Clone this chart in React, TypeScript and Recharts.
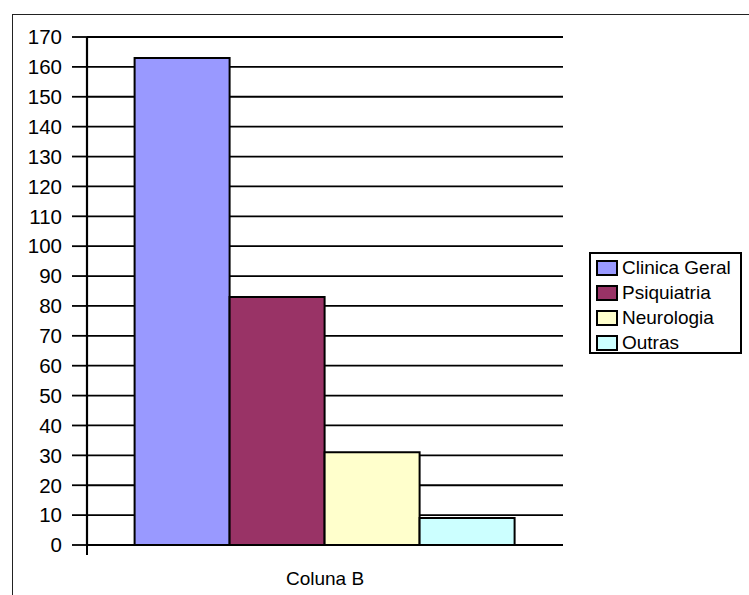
import React from 'react';
import { BarChart, Bar, XAxis, YAxis, CartesianGrid } from 'recharts';

// Atendimentos por especialidade
const categories = ['Coluna B'];
const seriesNames = ['Clinica Geral', 'Psiquiatria', 'Neurologia', 'Outras'];
const seriesKeys = ['clinica', 'psiquiatria', 'neurologia', 'outras'];
const seriesValues = [163, 83, 31, 9];
const seriesColors = ['#9999FF', '#993366', '#FFFFCC', '#CCFFFF'];
const yTicks = [0, 10, 20, 30, 40, 50, 60, 70, 80, 90, 100, 110, 120, 130, 140, 150, 160, 170];

const data = categories.map((name) => {
  const row: Record<string, string | number> = { name };
  seriesKeys.forEach((key, i) => {
    row[key] = seriesValues[i];
  });
  return row;
});

const font = '"Liberation Sans", Arial, sans-serif';

function LegendBox() {
  return (
    <div
      style={{
        position: 'absolute',
        left: 589,
        top: 252,
        width: 153,
        height: 102,
        boxSizing: 'border-box',
        border: '2px solid #000',
        background: '#fff',
        paddingTop: 1,
      }}
    >
      {seriesNames.map((name, i) => (
        <div key={name} style={{ display: 'flex', alignItems: 'center', height: 25 }}>
          <div
            style={{
              width: 22,
              height: 16,
              marginLeft: 5,
              marginRight: 4,
              boxSizing: 'border-box',
              border: '2px solid #000',
              background: seriesColors[i],
            }}
          />
          <span style={{ fontFamily: font, fontSize: 19, color: '#000', lineHeight: '20px' }}>{name}</span>
        </div>
      ))}
    </div>
  );
}

export default function App() {
  return (
    <div
      style={{
        position: 'fixed',
        left: 0,
        top: 0,
        width: 749,
        height: 595,
        background: '#fff',
        overflow: 'hidden',
      }}
    >
      {/* chart frame */}
      <div
        style={{
          position: 'absolute',
          left: 12,
          top: 14,
          right: 0,
          bottom: 0,
          borderTop: '1px solid #222',
          borderLeft: '1px solid #222',
        }}
      />
      <div style={{ position: 'absolute', left: 0, top: 0 }}>
        <BarChart
          width={749}
          height={595}
          data={data}
          margin={{ top: 37, right: 186, bottom: 10, left: 0 }}
          barCategoryGap="10%"
          barGap={0}
        >
          <CartesianGrid horizontal vertical={false} stroke="#000" strokeWidth={1.8} />
          <XAxis
            dataKey="name"
            axisLine={{ stroke: '#000', strokeWidth: 2 }}
            tickLine={false}
            tickSize={0}
            tickMargin={27}
            height={40}
            tick={{ fill: '#000', fontSize: 19, fontFamily: font }}
          />
          <YAxis
            domain={[0, 170]}
            ticks={yTicks}
            interval={0}
            width={87}
            axisLine={{ stroke: '#000', strokeWidth: 2.2 }}
            tickLine={{ stroke: '#000', strokeWidth: 1.8 }}
            tickSize={15}
            tickMargin={10}
            tick={{ fill: '#000', fontSize: 20.5, fontFamily: font }}
          />
          {seriesKeys.map((key, i) => (
            <Bar
              key={key}
              dataKey={key}
              name={seriesNames[i]}
              fill={seriesColors[i]}
              stroke="#000"
              strokeWidth={2}
              isAnimationActive={false}
            />
          ))}
        </BarChart>
      </div>
      {/* category boundary tick below the axis */}
      <div style={{ position: 'absolute', left: 86, top: 545, width: 2, height: 10, background: '#000' }} />
      <LegendBox />
    </div>
  );
}
